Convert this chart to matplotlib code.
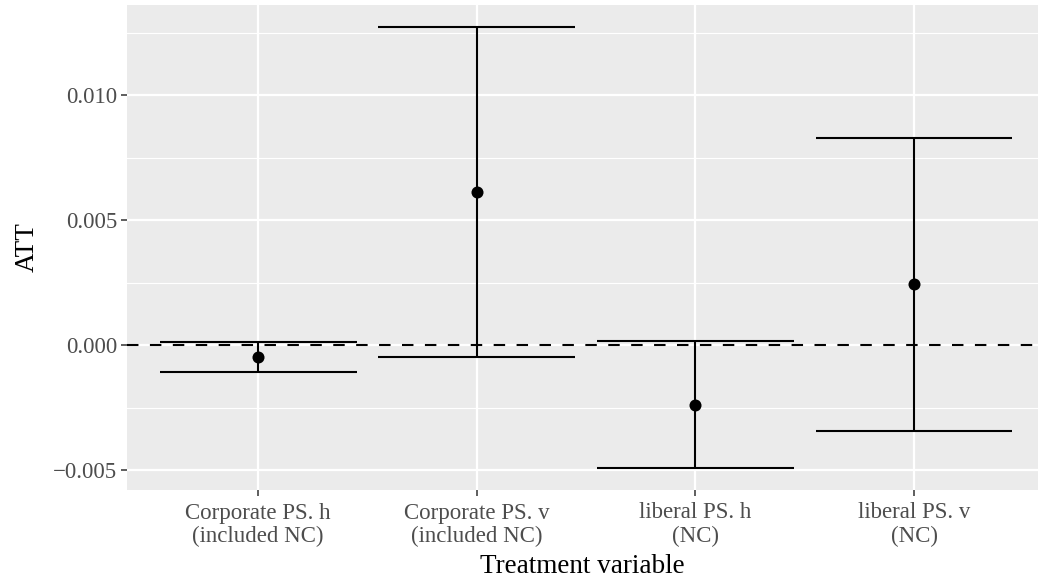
import matplotlib
matplotlib.use("Agg")
import matplotlib.pyplot as plt
import numpy as np

plt.rcParams['font.family'] = ['Liberation Serif', 'DejaVu Serif']

categories = ["Corporate PS. h\n(included NC)", "Corporate PS. v\n(included NC)",
              "liberal PS. h\n(NC)", "liberal PS. v\n(NC)"]
att = [-0.00049, 0.00611, -0.00239, 0.00243]
ci_low = [-0.00108, -0.00048, -0.00491, -0.00344]
ci_high = [0.00012, 0.01271, 0.00015, 0.00829]

yticks = [-0.005, 0.000, 0.005, 0.010]
ytick_labels = ["\u22120.005", "0.000", "0.005", "0.010"]
minor_ticks = [-0.0025, 0.0025, 0.0075, 0.0125]

W, H = 1038, 584
fig = plt.figure(figsize=(W / 100, H / 100), dpi=100)
ax = fig.add_axes([127 / W, 1 - 490 / H, (W - 127) / W, (490 - 5) / H])
ax.set_facecolor("#EBEBEB")

x = np.arange(1, len(categories) + 1)

# grid
for v in minor_ticks:
    ax.axhline(v, color="white", lw=0.8, zorder=0)
for v in yticks:
    ax.axhline(v, color="white", lw=1.6, zorder=0)
for v in x:
    ax.axvline(v, color="white", lw=1.6, zorder=0)

ax.axhline(0, color="black", lw=1.5, ls=(0, (5.5, 5.5)), zorder=2)

half = 0.45
for xi, lo, hi in zip(x, ci_low, ci_high):
    ax.plot([xi, xi], [lo, hi], color="black", lw=1.5, zorder=3, solid_capstyle="butt")
    ax.plot([xi - half, xi + half], [lo, lo], color="black", lw=1.5, zorder=3, solid_capstyle="butt")
    ax.plot([xi - half, xi + half], [hi, hi], color="black", lw=1.5, zorder=3, solid_capstyle="butt")
ax.scatter(x, att, s=75, color="black", zorder=4, linewidths=0)

ax.set_xlim(0.4, 4 + (W - 914) / 218.7)
ax.set_ylim(-0.0058, 0.0136)
ax.set_xticks(x)
ax.set_xticklabels(categories, fontsize=16.5, color="#4D4D4D", linespacing=1.12)
ax.set_yticks(yticks)
ax.set_yticklabels(ytick_labels, fontsize=16.5, color="#4D4D4D")
ax.tick_params(axis="y", length=4, width=1.1, color="#333333", pad=3)
ax.tick_params(axis="x", length=4, width=1.1, color="#333333", pad=5)
for s in ax.spines.values():
    s.set_visible(False)

ax.set_xlabel("Treatment variable", fontsize=19.5, labelpad=5)
ax.set_ylabel("ATT", fontsize=19.5, labelpad=10)

fig.savefig("out.png", dpi=100)
